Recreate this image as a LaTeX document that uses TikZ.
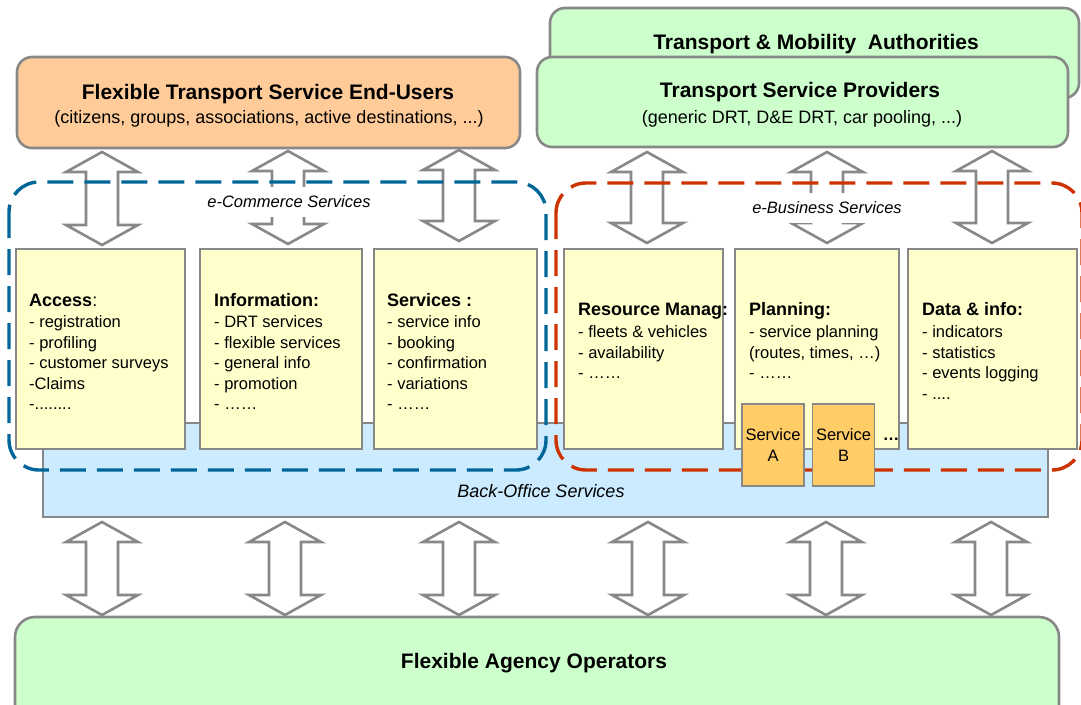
\documentclass[tikz,border=0pt]{standalone}
\usepackage{fontspec}
\setmainfont{Liberation Sans}
\usetikzlibrary{calc}

\definecolor{edge}{HTML}{888888}
\definecolor{peach}{HTML}{FFCC99}
\definecolor{mint}{HTML}{CCFFCC}
\definecolor{cream}{HTML}{FFFFCC}
\definecolor{sky}{HTML}{CCEBFF}
\definecolor{amber}{HTML}{FFCC66}
\definecolor{ecblue}{HTML}{006699}
\definecolor{ebred}{HTML}{CC3300}

\newcommand\fs[1]{\fontsize{#1}{#1}\selectfont}

% double-headed block arrow between two tip coordinates (top, bottom)
\newcommand\blockarrow[2]{%
  \draw[flow] (#1) -- ++(36,20) -- ++(-20,0) -- ($(#2)+(16,-20)$) -- ++(20,0)
    -- (#2) -- ++(-36,-20) -- ++(20,0) -- ($(#1)+(-16,20)$) -- ++(-20,0) -- cycle;}

\tikzset{
  box/.style={draw=edge, line width=2.6pt, inner sep=0pt, outer sep=0pt},
  actor/.style={box, rounded corners=15pt},
  module/.style={box, fill=cream},
  svc/.style={draw=edge, line width=1.4pt, fill=amber, inner sep=0pt,
    minimum width=62pt, minimum height=82pt, align=center,
    font=\fs{16.5}, text depth=0pt},
  flow/.style={draw=edge, fill=white, line width=2.6pt},
  zone/.style={line width=3.4pt, dash pattern=on 26pt off 11pt, rounded corners=30pt},
  zonelabel/.style={fill=white, inner xsep=4pt, minimum height=30pt,
    font=\fs{16.5}\itshape},
  title/.style={anchor=base, font=\fs{21}\bfseries},
  subtitle/.style={anchor=base, font=\fs{18}},
  head/.style={anchor=base west, font=\fs{18}, inner sep=0pt},
  item/.style={anchor=base west, font=\fs{16.5}, inner sep=0pt},
}

\begin{document}
\begin{tikzpicture}[x=1pt,y=-1pt]
\useasboundingbox (0,0) rectangle (1081,704);

% back-office layer
\node[box, fill=sky, minimum width=1005pt, minimum height=94pt] (bo) at (545.5,470) {};
\node[font=\fs{18}\itshape] (bolabel) at (541,491) {Back-Office Services};

% service modules
\node[module, minimum width=169pt, minimum height=200pt] (m1) at (100.5,349) {};
\node[module, minimum width=162pt, minimum height=200pt] (m2) at (281,349) {};
\node[module, minimum width=163pt, minimum height=200pt] (m3) at (455.5,349) {};
\node[module, minimum width=159pt, minimum height=200pt] (m4) at (643.5,349) {};
\node[module, minimum width=164pt, minimum height=200pt] (m5) at (817,349) {};
\node[module, minimum width=169pt, minimum height=200pt] (m6) at (992.5,349) {};

% module contents (left row: heading baseline 306.5, right row: 315.5, step 20.5)
\node[head] (h1) at (29,306.5) {\textbf{Access}:};
\node[item] (a1) at (29,327.5) {- registration};
\node[item] (a2) at (29,348) {- profiling};
\node[item] (a3) at (29,368.5) {- customer surveys};
\node[item] (a4) at (29,389) {-Claims};
\node[item] (a5) at (29,409.5) {-........};

\node[head] (h2) at (214,306.5) {\textbf{Information:}};
\node[item] (b1) at (214,327.5) {- DRT services};
\node[item] (b2) at (214,348) {- flexible services};
\node[item] (b3) at (214,368.5) {- general info};
\node[item] (b4) at (214,389) {- promotion};
\node[item] (b5) at (214,409.5) {- ……};

\node[head] (h3) at (387,306.5) {\textbf{Services :}};
\node[item] (c1) at (387,327.5) {- service info};
\node[item] (c2) at (387,348) {- booking};
\node[item] (c3) at (387,368.5) {- confirmation};
\node[item] (c4) at (387,389) {- variations};
\node[item] (c5) at (387,409.5) {- ……};

\node[head] (h4) at (578,315.5) {\textbf{Resource Manag:}};
\node[item] (d1) at (578,337.5) {- fleets \& vehicles};
\node[item] (d2) at (578,358) {- availability};
\node[item] (d3) at (578,378.5) {- ……};

\node[head] (h5) at (749,315.5) {\textbf{Planning:}};
\node[item] (e1) at (749,337.5) {- service planning};
\node[item] (e2) at (749,358) {(routes, times, …)};
\node[item] (e3) at (749,378.5) {- ……};

\node[head] (h6) at (922,315.5) {\textbf{Data \& info:}};
\node[item] (f1) at (922,337.5) {- indicators};
\node[item] (f2) at (922,358) {- statistics};
\node[item] (f3) at (922,378.5) {- events logging};
\node[item] (f4) at (922,399) {- ....};

% actors
\node[actor, fill=mint, minimum width=529pt, minimum height=90pt] (tma) at (814.5,53) {};
\node[actor, fill=mint, minimum width=531pt, minimum height=90pt] (tsp) at (802.5,102) {};
\node[actor, fill=peach, minimum width=503pt, minimum height=91pt] (eu) at (268.5,102.5) {};
\node[actor, fill=mint, rounded corners=20pt, minimum width=1044pt, minimum height=123pt] (fao) at (537,678.5) {};

\node[title] (tmat) at (816,49.5) {Transport \& Mobility~ Authorities};
\node[title] (tspt) at (800,97.5) {Transport Service Providers};
\node[subtitle] (tsps) at (802,123) {(generic DRT, D\&E DRT, car pooling, ...)};
\node[title] (eut) at (268,99.5) {Flexible Transport Service End-Users};
\node[subtitle] (eus) at (269,123) {(citizens, groups, associations, active destinations, ...)};
\node[font=\fs{21}\bfseries] (faot) at (534,663) {Flexible Agency Operators};

% interaction arrows
\foreach \n/\x/\yt/\yb in {u1/102/152/245, u2/288/151/244, u3/459/150/241,
    p1/647/152/243, p2/827/152/243, p3/992/151/243} {
  \coordinate (\n t) at (\x,\yt);
  \coordinate (\n b) at (\x,\yb);
  \blockarrow{\n t}{\n b}
}
\foreach \n/\x in {o1/102, o2/285, o3/459, o4/648, o5/826, o6/991} {
  \coordinate (\n t) at (\x,522);
  \coordinate (\n b) at (\x,615);
  \blockarrow{\n t}{\n b}
}

% service zones
\draw[zone, ecblue] (9,182) rectangle (546,470);
\draw[zone, ebred] (556,183) rectangle (1082,470);
\node[zonelabel] (ecl) at (289,202) {e-Commerce Services};
\node[zonelabel] (ebl) at (827,208) {e-Business Services};

% planned service instances
\node[svc] (sa) at (773,445) {Service\\[5pt]A};
\node[svc] (sb) at (843.5,445) {Service\\[5pt]B};
\node[anchor=base, font=\fs{16.5}\bfseries, inner sep=0pt] (more) at (891,440) {…};
\end{tikzpicture}
\end{document}
